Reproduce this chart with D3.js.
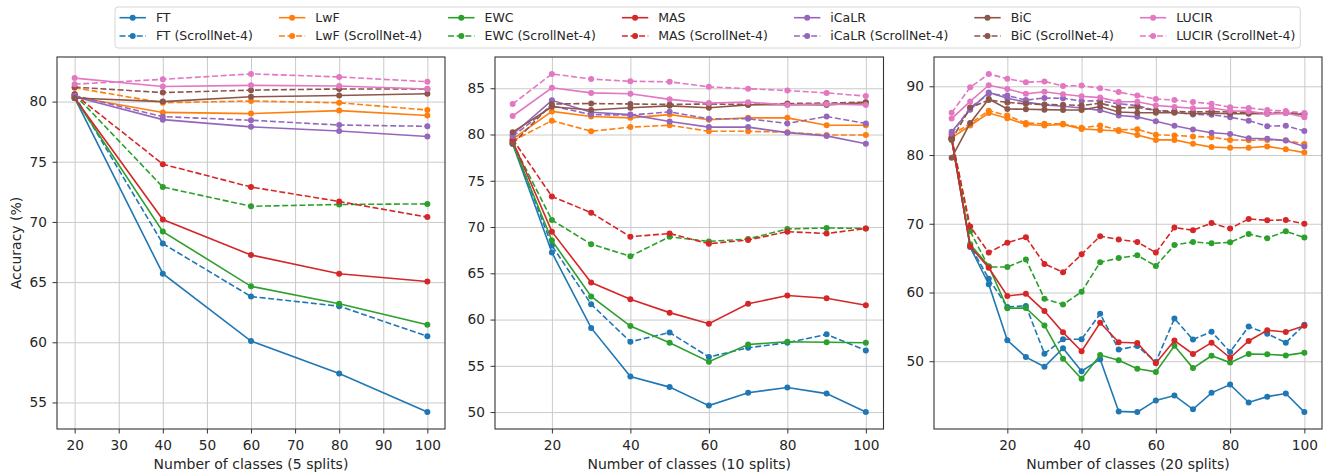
<!DOCTYPE html>
<html>
<head>
<meta charset="utf-8">
<script src="https://cdn.jsdelivr.net/npm/d3@7"></script>
<style>
  body { margin: 0; background: #fff; }
  svg { font-family: "DejaVu Sans", sans-serif; }
</style>
</head>
<body>
<svg id="chart" width="1328" height="474"></svg>
<script>
const methods = ["FT", "LwF", "EWC", "MAS", "iCaLR", "BiC", "LUCIR"];
const colors = ["#1f77b4", "#ff7f0e", "#2ca02c", "#d62728", "#9467bd", "#8c564b", "#e377c2"];
const scrollSuffix = " (ScrollNet-4)";

// 5 splits
const classes5 = [20, 40, 60, 80, 100];
const ft5 = [80.3, 65.7, 60.1, 57.4, 54.2];
const ft5S = [80.5, 68.2, 63.8, 63.0, 60.5];
const lwf5 = [80.4, 79.1, 79.0, 79.25, 78.85];
const lwf5S = [81.15, 79.9, 80.05, 79.9, 79.3];
const ewc5 = [80.3, 69.2, 64.65, 63.2, 61.45];
const ewc5S = [80.6, 72.9, 71.3, 71.45, 71.5];
const mas5 = [80.3, 70.2, 67.25, 65.7, 65.05];
const mas5S = [80.6, 74.8, 72.9, 71.7, 70.4];
const icarl5 = [80.4, 78.5, 77.9, 77.55, 77.1];
const icarl5S = [80.5, 78.75, 78.45, 78.05, 77.95];
const bic5 = [80.3, 80.0, 80.4, 80.5, 80.65];
const bic5S = [81.2, 80.75, 80.95, 81.05, 81.05];
const lucir5 = [81.95, 81.25, 81.35, 81.3, 81.05];
const lucir5S = [81.45, 81.85, 82.3, 82.05, 81.65];

// 10 splits
const classes10 = [10, 20, 30, 40, 50, 60, 70, 80, 90, 100];
const ft10 = [79.0, 67.25, 59.1, 53.85, 52.7, 50.7, 52.1, 52.65, 52.0, 50.0];
const ft10S = [79.2, 68.0, 61.65, 57.6, 58.6, 55.95, 56.95, 57.5, 58.4, 56.65];
const lwf10 = [79.5, 82.5, 81.95, 81.8, 82.15, 81.6, 81.8, 81.8, 81.0, 81.0];
const lwf10S = [79.3, 81.5, 80.35, 80.8, 81.0, 80.35, 80.35, 80.25, 79.95, 79.95];
const ewc10 = [79.0, 68.55, 62.5, 59.3, 57.5, 55.45, 57.3, 57.6, 57.55, 57.5];
const ewc10S = [79.1, 70.75, 68.15, 66.85, 68.95, 68.45, 68.7, 69.8, 69.9, 69.85];
const mas10 = [79.3, 69.5, 64.0, 62.2, 60.75, 59.55, 61.7, 62.6, 62.3, 61.55];
const mas10S = [79.5, 73.3, 71.55, 68.95, 69.3, 68.2, 68.6, 69.5, 69.3, 69.85];
const icarl10 = [80.0, 83.7, 82.4, 82.15, 81.4, 80.8, 80.8, 80.2, 79.85, 79.0];
const icarl10S = [79.8, 83.1, 82.15, 82.1, 82.45, 81.7, 81.7, 81.2, 81.95, 81.2];
const bic10 = [80.25, 83.0, 82.65, 82.9, 83.1, 82.9, 83.2, 83.25, 83.2, 83.45];
const bic10S = [79.0, 83.3, 83.35, 83.3, 83.25, 83.3, 83.25, 83.35, 83.4, 83.5];
const lucir10 = [82.0, 85.05, 84.5, 84.4, 83.8, 83.4, 83.5, 83.2, 83.3, 83.2];
const lucir10S = [83.3, 86.55, 86.0, 85.75, 85.7, 85.15, 84.95, 84.75, 84.5, 84.15];

// 20 splits
const classes20 = [5, 10, 15, 20, 25, 30, 35, 40, 45, 50, 55, 60, 65, 70, 75, 80, 85, 90, 95, 100];
const ft20 = [82.5, 66.6, 61.2, 53.05, 50.6, 49.2, 51.9, 48.55, 50.3, 42.7, 42.6, 44.3, 45.0, 43.0, 45.4, 46.6, 44.0, 44.85, 45.3, 42.6];
const ft20S = [82.3, 66.8, 62.0, 57.9, 58.05, 51.1, 53.2, 53.2, 56.9, 51.7, 52.2, 49.9, 56.2, 53.15, 54.3, 51.35, 55.05, 54.0, 52.7, 55.3];
const lwf20 = [82.5, 84.3, 86.1, 85.35, 84.45, 84.3, 84.45, 83.8, 83.65, 83.5, 82.9, 82.2, 82.2, 81.65, 81.15, 81.05, 81.05, 81.25, 80.85, 80.35];
const lwf20S = [82.9, 84.6, 86.45, 85.75, 84.65, 84.55, 84.55, 83.95, 84.3, 83.65, 83.75, 82.95, 82.85, 82.7, 82.6, 82.2, 82.15, 82.2, 82.15, 81.6];
const ewc20 = [82.3, 67.0, 63.8, 57.7, 57.75, 55.2, 50.35, 47.45, 50.9, 50.15, 48.9, 48.45, 52.25, 49.0, 50.8, 49.8, 51.05, 51.0, 50.85, 51.25];
const ewc20S = [82.4, 68.9, 63.7, 63.7, 64.8, 59.1, 58.25, 60.1, 64.4, 65.0, 65.4, 63.85, 66.9, 67.35, 67.15, 67.3, 68.5, 67.9, 68.9, 68.0];
const mas20 = [82.3, 66.7, 63.6, 59.5, 59.8, 57.3, 54.2, 51.45, 55.6, 52.75, 52.65, 49.7, 53.0, 51.05, 52.7, 50.5, 52.95, 54.5, 54.25, 55.15];
const mas20S = [82.5, 69.6, 65.8, 67.25, 68.05, 64.15, 62.95, 65.55, 68.2, 67.7, 67.35, 65.8, 69.45, 69.05, 70.1, 69.3, 70.7, 70.5, 70.55, 70.0];
const icarl20 = [83.4, 86.6, 89.1, 88.25, 87.7, 87.3, 87.1, 86.85, 86.5, 85.75, 85.55, 84.9, 84.25, 83.7, 83.25, 83.05, 82.45, 82.35, 82.1, 81.25];
const icarl20S = [83.1, 86.9, 88.9, 88.65, 88.0, 88.3, 88.25, 87.85, 87.9, 87.45, 87.2, 86.45, 86.25, 85.9, 85.85, 85.5, 85.0, 84.2, 84.25, 83.5];
const bic20 = [79.6, 84.65, 88.15, 86.7, 86.65, 86.6, 86.55, 86.55, 87.05, 86.25, 86.15, 86.15, 86.15, 86.0, 86.1, 86.0, 86.0, 86.0, 86.1, 85.9];
const bic20S = [82.2, 86.9, 88.0, 87.65, 87.45, 87.35, 87.3, 87.2, 87.55, 86.85, 86.95, 86.45, 86.35, 86.25, 86.35, 86.25, 86.15, 86.15, 86.2, 86.0];
const lucir20 = [85.3, 87.8, 90.15, 89.6, 88.9, 89.2, 88.85, 88.55, 88.35, 87.75, 87.75, 87.2, 87.0, 86.8, 86.85, 86.45, 86.35, 86.0, 86.1, 85.5];
const lucir20S = [86.15, 89.85, 91.8, 91.1, 90.6, 90.7, 90.05, 90.1, 89.7, 89.15, 88.65, 88.15, 88.0, 87.7, 87.45, 86.95, 86.85, 86.55, 86.4, 86.1];

// ticks and labels
const xTicks5 = [20, 30, 40, 50, 60, 70, 80, 90, 100];
const yTicks5 = [55, 60, 65, 70, 75, 80];
const xTicks10 = [20, 40, 60, 80, 100];
const yTicks10 = [50, 55, 60, 65, 70, 75, 80, 85];
const xTicks20 = [20, 40, 60, 80, 100];
const yTicks20 = [50, 60, 70, 80, 90];
const xLabels = ["Number of classes (5 splits)", "Number of classes (10 splits)", "Number of classes (20 splits)"];
const yLabel = "Accuracy (%)";

const panels = [
  { xs: classes5, solid: [ft5, lwf5, ewc5, mas5, icarl5, bic5, lucir5],
    scroll: [ft5S, lwf5S, ewc5S, mas5S, icarl5S, bic5S, lucir5S],
    xTicks: xTicks5, yTicks: yTicks5, label: xLabels[0], left: 57, right: 445 },
  { xs: classes10, solid: [ft10, lwf10, ewc10, mas10, icarl10, bic10, lucir10],
    scroll: [ft10S, lwf10S, ewc10S, mas10S, icarl10S, bic10S, lucir10S],
    xTicks: xTicks10, yTicks: yTicks10, label: xLabels[1], left: 495, right: 883.5 },
  { xs: classes20, solid: [ft20, lwf20, ewc20, mas20, icarl20, bic20, lucir20],
    scroll: [ft20S, lwf20S, ewc20S, mas20S, icarl20S, bic20S, lucir20S],
    xTicks: xTicks20, yTicks: yTicks20, label: xLabels[2], left: 934, right: 1322 },
];

const svg = d3.select("#chart");
const plotTop = 57, plotBottom = 429;
const tickFont = 13.7, labelFont = 14, legendFont = 12.5;
const textColor = "#262626";
const dash = "6,2.6";

// matplotlib-like 5% margins
function padded([a, b]) {
  const m = (b - a) * 0.05;
  return [a - m, b + m];
}

panels.forEach((p, pi) => {
  const g = svg.append("g");
  const all = p.solid.flat().concat(p.scroll.flat());
  const x = d3.scaleLinear().domain(padded(d3.extent(p.xs))).range([p.left, p.right]);
  const y = d3.scaleLinear().domain(padded(d3.extent(all))).range([plotBottom, plotTop]);

  // grid
  const gx = g.append("g").attr("transform", `translate(0,${plotBottom})`)
    .call(d3.axisBottom(x).tickValues(p.xTicks).tickSize(-(plotBottom - plotTop)).tickFormat(""));
  const gy = g.append("g").attr("transform", `translate(${p.left},0)`)
    .call(d3.axisLeft(y).tickValues(p.yTicks).tickSize(-(p.right - p.left)).tickFormat(""));
  [gx, gy].forEach(a => {
    a.select(".domain").remove();
    a.selectAll("line").attr("stroke", "#cacaca").attr("stroke-width", 1);
  });

  // series
  const line = d3.line().x((d, j) => x(p.xs[j])).y(d => y(d));
  methods.forEach((m, i) => {
    [p.solid[i], p.scroll[i]].forEach((vals, k) => {
      const s = g.append("g");
      s.append("path")
        .attr("d", line(vals))
        .attr("fill", "none")
        .attr("stroke", colors[i])
        .attr("stroke-width", 1.6)
        .attr("stroke-dasharray", k === 1 ? dash : null);
      s.selectAll("circle").data(vals).join("circle")
        .attr("cx", (d, j) => x(p.xs[j]))
        .attr("cy", d => y(d))
        .attr("r", 3)
        .attr("fill", colors[i]);
    });
  });

  // frame
  g.append("rect")
    .attr("x", p.left).attr("y", plotTop)
    .attr("width", p.right - p.left).attr("height", plotBottom - plotTop)
    .attr("fill", "none").attr("stroke", "#333").attr("stroke-width", 1.1);

  // axes
  const ax = g.append("g").attr("transform", `translate(0,${plotBottom})`)
    .call(d3.axisBottom(x).tickValues(p.xTicks).tickSize(4.5).tickPadding(6.5));
  const ay = g.append("g").attr("transform", `translate(${p.left},0)`)
    .call(d3.axisLeft(y).tickValues(p.yTicks).tickSize(4.5).tickPadding(5.5));
  [ax, ay].forEach(a => {
    a.select(".domain").remove();
    a.selectAll("line").attr("stroke", "#333");
    a.selectAll("text").attr("font-size", tickFont).attr("fill", textColor)
      .attr("font-family", "DejaVu Sans, sans-serif");
  });

  g.append("text")
    .attr("x", (p.left + p.right) / 2).attr("y", 469)
    .attr("text-anchor", "middle")
    .attr("font-size", labelFont).attr("fill", textColor)
    .text(p.label);

  if (pi === 0) {
    g.append("text")
      .attr("transform", `translate(21,${(plotTop + plotBottom) / 2}) rotate(-90)`)
      .attr("text-anchor", "middle")
      .attr("font-size", labelFont).attr("fill", textColor)
      .text(yLabel);
  }
});

// legend
const legend = svg.append("g");
const box = legend.append("rect");
const rows = [17.7, 36];
let cx = 119.5;
let lastEnd = cx;
methods.forEach((m, i) => {
  let colW = 0;
  [m, m + scrollSuffix].forEach((lbl, k) => {
    const yy = rows[k];
    legend.append("line")
      .attr("x1", cx).attr("x2", cx + 26.4).attr("y1", yy).attr("y2", yy)
      .attr("stroke", colors[i]).attr("stroke-width", 1.6)
      .attr("stroke-dasharray", k === 1 ? dash : null);
    legend.append("circle").attr("cx", cx + 13.2).attr("cy", yy).attr("r", 3).attr("fill", colors[i]);
    const t = legend.append("text")
      .attr("x", cx + 36.4).attr("y", yy).attr("dy", "0.35em")
      .attr("font-size", legendFont).attr("fill", textColor)
      .text(lbl);
    colW = Math.max(colW, t.node().getComputedTextLength());
  });
  lastEnd = cx + 36.4 + colW;
  cx = lastEnd + 26;
});
box.attr("x", 115).attr("y", 7).attr("width", lastEnd + 5 - 115).attr("height", 41)
  .attr("rx", 3).attr("fill", "#fff").attr("stroke", "#d6d6d6").attr("stroke-width", 1);
</script>
</body>
</html>
